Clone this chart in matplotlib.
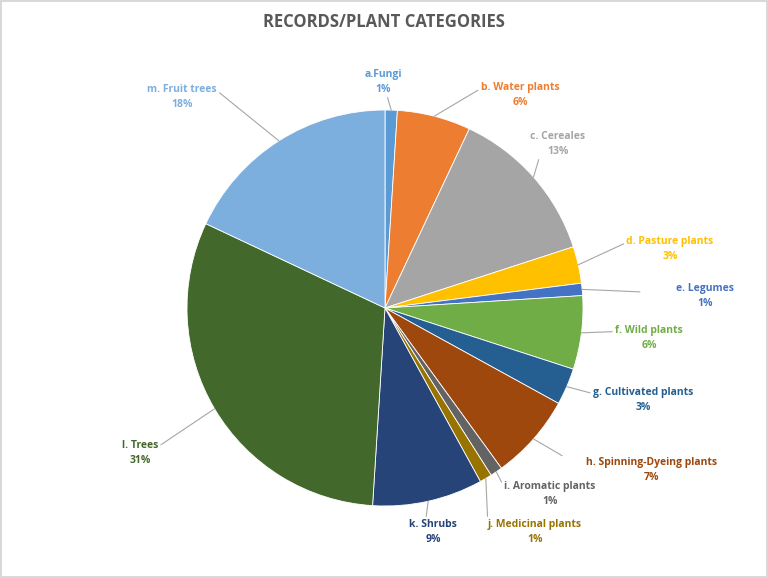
import numpy as np
import matplotlib
matplotlib.use('Agg')
import matplotlib.pyplot as plt

W, H = 768, 578

categories = ['a.Fungi', 'b. Water plants', 'c. Cereales', 'd. Pasture plants',
              'e. Legumes', 'f. Wild plants', 'g. Cultivated plants',
              'h. Spinning-Dyeing plants', 'i. Aromatic plants', 'j. Medicinal plants',
              'k. Shrubs', 'l. Trees', 'm. Fruit trees']
shares = [1, 6, 13, 3, 1, 6, 3, 7, 1, 1, 9, 31, 18]
colors = ['#5B9BD5', '#ED7D31', '#A5A5A5', '#FFC000', '#4472C4', '#70AD47', '#255E91',
          '#9E480E', '#636363', '#997300', '#264478', '#43682B', '#7CAFDD']

# label block centres (pixels from top-left) and where the leader line meets the box
label_pos = [(383, 82), (520, 95), (558, 144), (670, 249), (705, 296), (649, 338),
             (643, 400), (652, 470), (550, 494), (535, 532), (433, 532), (140, 453),
             (182, 97)]
line_rel = [(0.6, 0.0), (0.0, 0.75), (0.2, 0.25), (0.0, 0.75), (0.0, 0.6), (0.0, 0.75),
            (0.0, 0.75), (0.0, 0.5), (0.0, 0.75), (0.0, 0.75), (0.35, 1.0), (1.0, 0.75),
            (1.0, 0.75)]
line_gap = [0, 0, 0, 0, 24, 0, 0, 18, 0, 0, 0, 0, 0]

cx, cy, r = 385, H - 308, 198

plt.rcParams['font.family'] = ['Open Sans', 'DejaVu Sans']

fig = plt.figure(figsize=(W / 100, H / 100), dpi=100)
fig.patch.set_edgecolor('#D9D9D9')
fig.patch.set_linewidth(1.5)
ax = fig.add_axes([0, 0, 1, 1])

wedges, _ = ax.pie(shares, colors=colors, startangle=90, counterclock=False,
                   center=(cx, cy), radius=r,
                   wedgeprops=dict(edgecolor='white', linewidth=0.6))
ax.set_xlim(0, W)
ax.set_ylim(0, H)
ax.set_aspect('equal')
ax.axis('off')

total = float(sum(shares))
cum = np.cumsum(shares) - np.array(shares) / 2.0
for i, (name, val) in enumerate(zip(categories, shares)):
    ang = np.deg2rad(90 - 360 * cum[i] / total)
    ex, ey = cx + r * np.cos(ang), cy + r * np.sin(ang)
    px, py = label_pos[i]
    ax.annotate('%s\n%d%%' % (name, val), xy=(ex, ey), xytext=(px, H - py),
                ha='center', va='center', fontsize=7.5, fontweight='bold',
                color=colors[i], linespacing=1.45,
                arrowprops=dict(arrowstyle='-', color='#A6A6A6', lw=0.8,
                                relpos=line_rel[i], shrinkA=line_gap[i], shrinkB=0))

fig.text(0.5, 1 - 22 / H, 'RECORDS/PLANT CATEGORIES', ha='center', va='center',
         fontsize=12, fontweight='bold', color='#595959')

fig.savefig('out.png', dpi=100, edgecolor=fig.get_edgecolor())
